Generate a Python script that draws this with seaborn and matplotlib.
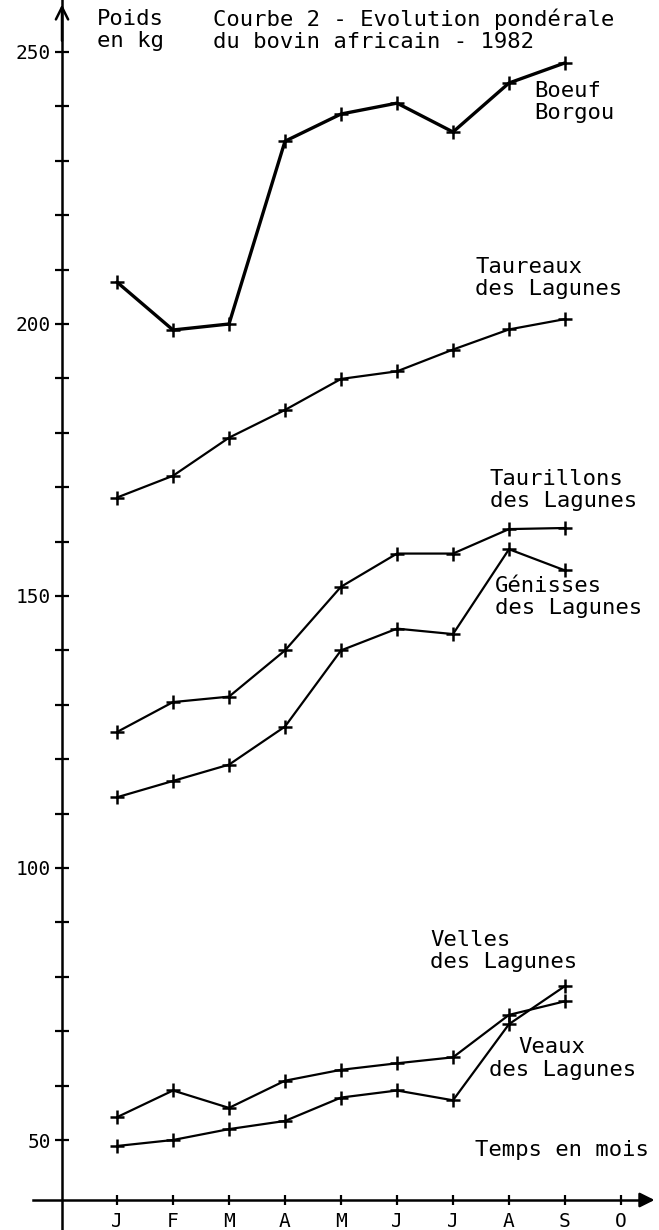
import seaborn as sns
import pandas as pd
import matplotlib.pyplot as plt

months = ['J', 'F', 'M', 'A', 'M', 'J', 'J', 'A', 'S', 'O']

# poids en kg, janvier -> septembre
boeuf_borgou = [207.7, 198.9, 200.0, 233.6, 238.6, 240.6, 235.3, 244.3, 248.0]
taureaux = [168.1, 172.1, 179.1, 184.2, 189.9, 191.3, 195.3, 199.0, 200.9]
taurillons = [125.0, 130.5, 131.5, 140.0, 151.7, 157.8, 157.8, 162.3, 162.5]
genisses = [113.0, 116.0, 119.0, 126.0, 140.0, 144.0, 143.0, 158.6, 154.7]
velles = [54.2, 59.1, 55.9, 60.9, 62.9, 64.1, 65.2, 73.0, 75.5]
veaux = [48.9, 50.0, 52.0, 53.5, 57.8, 59.1, 57.3, 71.3, 78.3]

series = {
    'Boeuf Borgou': boeuf_borgou,
    'Taureaux': taureaux,
    'Taurillons': taurillons,
    'Genisses': genisses,
    'Velles': velles,
    'Veaux': veaux,
}

sns.set_style("white")
plt.rcParams['font.family'] = ['DejaVu Sans Mono', 'DejaVu Sans']
plt.rcParams['text.color'] = 'black'
plt.rcParams['xtick.color'] = 'black'
plt.rcParams['ytick.color'] = 'black'

W, H = 659, 1230
fig = plt.figure(figsize=(W / 100, H / 100), dpi=100)
ax = fig.add_axes([0, 0, 1, 1])

# pixel layout of the original drawing
px_j, px_step = 117, 56.0
py_50, py_per_kg = 1140, 5.44
ax.set_xlim(-px_j / px_step, (W - px_j) / px_step)
ax.set_ylim(50 - (H - py_50) / py_per_kg, 50 + py_50 / py_per_kg)

x_axis_pos = (62 - px_j) / px_step
y_axis_pos = 50 - (1200 - py_50) / py_per_kg

for name, vals in series.items():
    df = pd.DataFrame({'mois': range(len(vals)), 'poids': vals})
    lw = 2.4 if name == 'Boeuf Borgou' else 1.6
    sns.lineplot(data=df, x='mois', y='poids', ax=ax, color='black', linewidth=lw,
                 marker='+', markersize=10, markeredgewidth=1.8, markeredgecolor='black')

for s in ['top', 'right']:
    ax.spines[s].set_visible(False)
ax.spines['left'].set_position(('data', x_axis_pos))
ax.spines['bottom'].set_position(('data', y_axis_pos))
ax.spines['left'].set_linewidth(1.8)
ax.spines['bottom'].set_linewidth(1.8)
ax.spines['left'].set_color('black')
ax.spines['bottom'].set_color('black')
ax.spines['bottom'].set_bounds(-1.5, 9.5)

ax.set_yticks([50, 100, 150, 200, 250])
ax.set_yticks(range(60, 250, 10), minor=True)
ax.set_xticks(range(len(months)))
ax.set_xticklabels(months)
ax.tick_params(axis='y', which='both', direction='inout', length=10, width=1.6,
               labelsize=14, pad=3, left=True)
ax.tick_params(axis='x', direction='inout', length=7, width=1.6,
               labelsize=14, pad=5, bottom=True)
ax.set_xlabel('')
ax.set_ylabel('')

# arrows of the axes
ylo, yhi = ax.get_ylim()
ax.annotate('', xy=(x_axis_pos, yhi - 0.3), xytext=(x_axis_pos, yhi - 8),
            arrowprops=dict(arrowstyle='->', color='black', lw=1.8, mutation_scale=22))
xlo, xhi = ax.get_xlim()
ax.annotate('', xy=(xhi - 0.03, y_axis_pos), xytext=(9.3, y_axis_pos),
            arrowprops=dict(arrowstyle='-|>', color='black', lw=1.8, mutation_scale=22))


def label(x, y, s, **kw):
    fig.text(x / W, 1 - y / H, s, ha='left', va='top', fontsize=16, linespacing=1.1,
             color='black', **kw)


label(97, 9, 'Poids\nen kg')
label(213, 9, 'Courbe 2 - Evolution pondérale\ndu bovin africain - 1982')
label(534, 81, 'Boeuf\nBorgou')
label(475, 257, 'Taureaux\ndes Lagunes')
label(490, 469, 'Taurillons\ndes Lagunes')
label(495, 576, 'Génisses\ndes Lagunes')
label(430, 930, 'Velles\ndes Lagunes')
label(518, 1037, 'Veaux')
label(489, 1060, 'des Lagunes')
label(475, 1140, 'Temps en mois')

plt.savefig("out.png", dpi=100)
